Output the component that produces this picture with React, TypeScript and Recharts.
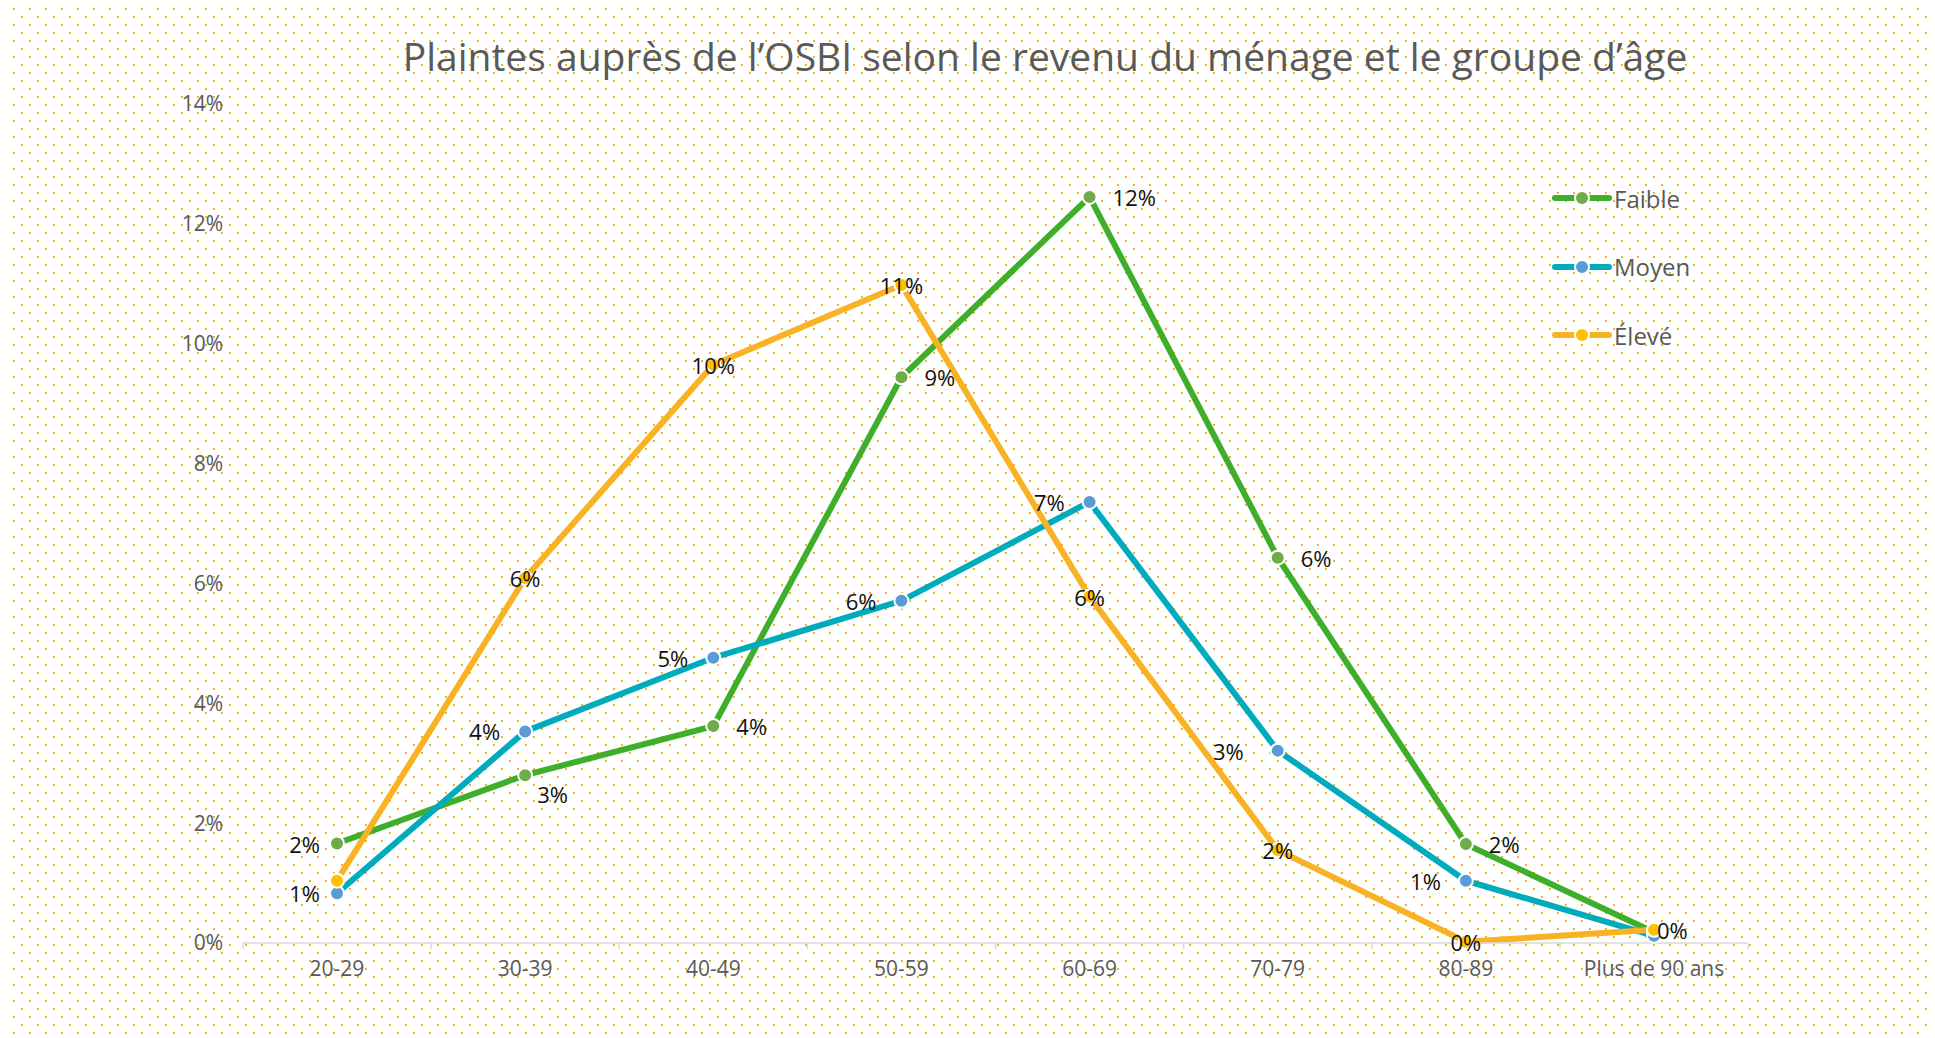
import { LineChart, Line, XAxis, YAxis, Legend, LabelList } from 'recharts'

const ageGroups = ['20-29', '30-39', '40-49', '50-59', '60-69', '70-79', '80-89', 'Plus de 90 ans']
const faible = [1.66, 2.8, 3.62, 9.44, 12.45, 6.43, 1.65, 0.18]
const moyen = [0.83, 3.53, 4.76, 5.71, 7.36, 3.21, 1.04, 0.12]
const eleve = [1.04, 6.09, 9.65, 10.98, 5.78, 1.55, 0.02, 0.22]
const yTicks = [0, 2, 4, 6, 8, 10, 12, 14]

// where each data label sits, per point (Excel placed them by hand-ish)
const faibleLabels = ['L2', 'BR', 'R', 'R', 'R', 'R', 'R', '']
const moyenLabels = ['L2', 'L', 'L', 'L', 'L', 'LL', 'L', '']
const eleveLabels = ['', 'C', 'C', 'C', 'C', 'C', 'C', 'R0']

const data = ageGroups.map((g, i) => ({ group: g, faible: faible[i], moyen: moyen[i], eleve: eleve[i] }))

const series = [
  { key: 'faible', name: 'Faible', line: '#3fae2a', dot: '#6fab46', labels: faibleLabels },
  { key: 'moyen', name: 'Moyen', line: '#00abbd', dot: '#5b9bd5', labels: moyenLabels },
  { key: 'eleve', name: 'Élevé', line: '#f8b224', dot: '#ffc000', labels: eleveLabels },
]

const FONT = '"Open Sans", sans-serif'
const GREY = '#595959'
const W = 1935
const H = 1038
const HALF_BAND = 94

function makeLabel(pos: string[]) {
  return (props: any) => {
    const { x, y, value, index } = props
    const p = pos[index]
    if (!p) return null
    let tx = x
    let ty = y
    let anchor: 'start' | 'middle' | 'end' = 'middle'
    if (p === 'L') { tx = x - 25; anchor = 'end' }
    if (p === 'L2') { tx = x - 17; anchor = 'end' }
    if (p === 'LL') { tx = x - 34; anchor = 'end' }
    if (p === 'R') { tx = x + 23; anchor = 'start' }
    if (p === 'R0') { tx = x + 3; anchor = 'start' }
    if (p === 'BR') { tx = x + 12; ty = y + 19; anchor = 'start' }
    return (
      <text x={tx} y={ty} textAnchor={anchor} dominantBaseline="central" fill="#111" fontSize={22} fontFamily={FONT}>
        {Math.round(Number(value))}%
      </text>
    )
  }
}

function AgeTick(props: any) {
  const { x, y, payload, index } = props
  const stroke = '#d9d9d9'
  return (
    <g>
      <line x1={x - HALF_BAND} x2={x - HALF_BAND} y1={y} y2={y + 6} stroke={stroke} strokeWidth={1.5} />
      {index === ageGroups.length - 1 && (
        <line x1={x + HALF_BAND} x2={x + HALF_BAND} y1={y} y2={y + 6} stroke={stroke} strokeWidth={1.5} />
      )}
      <text x={x} y={y + 25} textAnchor="middle" dominantBaseline="central" fill={GREY} fontSize={21} fontFamily={FONT}>
        {payload.value}
      </text>
    </g>
  )
}

function LegendBox() {
  return (
    <div style={{ fontFamily: FONT }}>
      {series.map((s) => (
        <div key={s.key} style={{ display: 'flex', alignItems: 'center', height: 68.5 }}>
          <svg width={60} height={20}>
            <line x1={3} x2={57} y1={10} y2={10} stroke={s.line} strokeWidth={6} strokeLinecap="round" />
            <circle cx={30} cy={10} r={7} fill={s.dot} stroke="#fff" strokeWidth={2} />
          </svg>
          <span style={{ fontSize: 24, color: GREY, marginLeft: 2 }}>{s.name}</span>
        </div>
      ))}
    </div>
  )
}

export default function App() {
  return (
    <div style={{ position: 'absolute', left: 0, top: 0, width: W, height: H, background: '#fff', overflow: 'hidden' }}>
      <div
        style={{
          position: 'absolute',
          left: 10,
          top: 7,
          width: 1918,
          height: H - 7,
          backgroundImage:
            'radial-gradient(circle, #f4b223 1.1px, transparent 1.4px), radial-gradient(circle, #f4b223 1.1px, transparent 1.4px)',
          backgroundSize: '16px 16px, 16px 16px',
          backgroundPosition: '4px 2px, 12px 10px',
        }}
      />
      <div
        style={{
          position: 'absolute',
          left: 1045,
          top: 28,
          transform: 'translateX(-50%)',
          whiteSpace: 'nowrap',
          fontFamily: FONT,
          fontSize: 39,
          lineHeight: '56px',
          color: GREY,
        }}
      >
        Plaintes auprès de l’OSBI selon le revenu du ménage et le groupe d’âge
      </div>
      <div style={{ position: 'absolute', left: 0, top: 0 }}>
        <LineChart width={W} height={H} data={data} margin={{ top: 104, right: 187, bottom: 35, left: 0 }}>
          <XAxis
            dataKey="group"
            height={60}
            padding={{ left: HALF_BAND, right: HALF_BAND }}
            axisLine={{ stroke: '#d9d9d9', strokeWidth: 1.5 }}
            tickLine={false}
            tickSize={0}
            tickMargin={0}
            interval={0}
            tick={(p: any) => <AgeTick {...p} />}
          />
          <YAxis
            width={243}
            domain={[0, 14]}
            ticks={yTicks}
            axisLine={false}
            tickLine={false}
            tickSize={6}
            tickMargin={14}
            tickFormatter={(v: number) => `${v}%`}
            tick={{ fill: GREY, fontSize: 21, fontFamily: FONT }}
          />
          <Legend
            layout="vertical"
            align="center"
            verticalAlign="middle"
            wrapperStyle={{ left: 1552, top: 164, width: 200 }}
            content={() => <LegendBox />}
          />
          {series.map((s) => (
            <Line
              key={s.key}
              dataKey={s.key}
              name={s.name}
              stroke={s.line}
              strokeWidth={6}
              dot={{ r: 7, fill: s.dot, stroke: '#fff', strokeWidth: 2 }}
              activeDot={false}
              isAnimationActive={false}
            >
              <LabelList dataKey={s.key} content={makeLabel(s.labels)} />
            </Line>
          ))}
        </LineChart>
      </div>
    </div>
  )
}
